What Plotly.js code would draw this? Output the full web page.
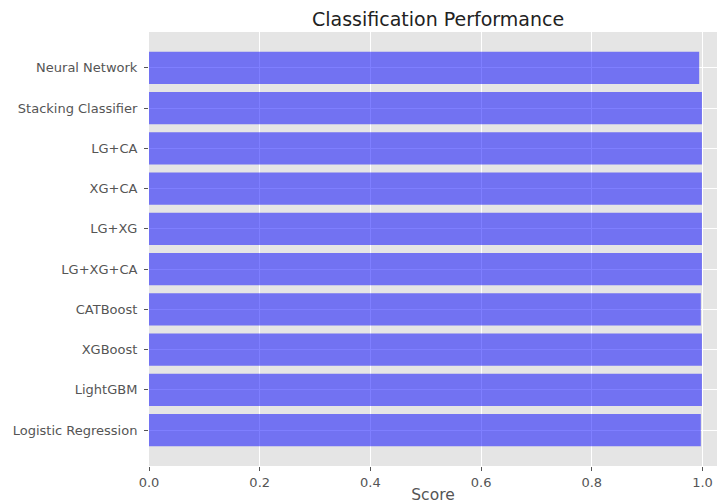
<!DOCTYPE html>
<html><head><meta charset="utf-8">
<script src="https://cdn.plot.ly/plotly-3.0.1.min.js"></script>
<style>html,body{margin:0;padding:0;background:#fff;}</style>
</head><body>
<div id="chart" style="width:717px;height:504px;"></div>
<script>
const models = ["Logistic Regression","LightGBM","XGBoost","CATBoost","LG+XG+CA","LG+XG","XG+CA","LG+CA","Stacking Classifier","Neural Network"];
const scores = [0.997,0.999,0.999,0.997,0.999,0.999,0.999,0.999,0.999,0.994];
const xTicks = [0,0.2,0.4,0.6,0.8,1.0];
const xTickLabels = ["0.0","0.2","0.4","0.6","0.8","1.0"];

const trace = {
  type: "bar",
  orientation: "h",
  x: scores,
  y: models.map((_, i) => i),
  width: 0.8,
  marker: {color: "rgba(0,0,255,0.5)", line: {width: 0}},
  hoverinfo: "x"
};

const layout = {
  width: 717, height: 504,
  margin: {l: 148.5, r: 0, t: 32, b: 38, pad: 0},
  paper_bgcolor: "#ffffff",
  plot_bgcolor: "#E5E5E5",
  font: {family: "DejaVu Sans", color: "#555555", size: 13},
  title: {text: "Classification Performance", font: {size: 19, color: "#222222", family: "DejaVu Sans"},
          xref: "container", yref: "container", x: 0.611, xanchor: "center", y: 0.961, yanchor: "middle"},
  bargap: 0.2,
  xaxis: {
    range: [0, 1.0262],
    tickvals: xTicks, ticktext: xTickLabels,
    showgrid: true, gridcolor: "#ffffff", gridwidth: 1,
    zeroline: false, showline: false,
    ticks: "outside", ticklen: 4, tickcolor: "#555555", tickwidth: 1,
    tickfont: {size: 13, color: "#555555"},
    title: {text: "Score", font: {size: 15.5, color: "#555555"}, standoff: 9}
  },
  yaxis: {
    range: [-0.89, 9.89],
    tickvals: models.map((_, i) => i), ticktext: models,
    showgrid: true, gridcolor: "#ffffff", gridwidth: 1,
    zeroline: false, showline: false,
    ticks: "outside", ticklen: 4, tickcolor: "#555555", tickwidth: 1,
    ticklabelstandoff: 4,
    tickfont: {size: 13, color: "#555555"}
  },
  showlegend: false
};

Plotly.newPlot("chart", [trace], layout, {displayModeBar: false, staticPlot: true});
</script>
</body></html>
